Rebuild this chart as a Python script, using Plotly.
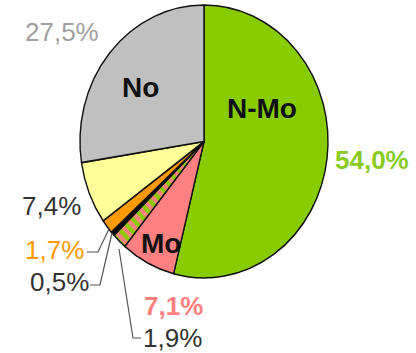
import plotly.graph_objects as go

# Share of each group, listed clockwise from 12 o'clock
groups = ["N-Mo", "Mo", "Mo / N-Mo", "Group D", "Group E", "Group F", "No"]
shares = [54.0, 7.1, 1.9, 0.5, 1.7, 7.4, 27.5]
slice_colors = ["#88CC00", "#FF8080", "#FF8080", "#000000", "#FF9900", "#FFFF99", "#C0C0C0"]
hatch_shapes = ["", "", "\\", "", "", "", ""]
hatch_colors = ["#88CC00"] * 7

# Names printed inside the pie
inner_names = ["N-Mo", "Mo", "No"]

W, H = 416, 353
CX, CY = 204, 141.5          # pie centre in pixels
RX, RY = 124, 136.5          # horizontal / vertical radius
SQUASH = RY / RX


def px(x, y):
    return x / W, 1 - y / H


def pct(v):
    return f"{v:.1f}".replace(".", ",") + "%"


fig = go.Figure()
fig.add_trace(go.Pie(
    labels=groups,
    values=shares,
    sort=False,
    direction="clockwise",
    rotation=0,
    textinfo="none",
    hoverinfo="label+percent",
    marker=dict(
        colors=slice_colors,
        line=dict(color="#111111", width=1.4),
        pattern=dict(shape=hatch_shapes, fgcolor=hatch_colors,
                     bgcolor=slice_colors, size=8, solidity=0.5,
                     fillmode="replace"),
    ),
    domain=dict(x=[(CX - RX) / W, (CX + RX) / W],
                y=[1 - (CY + RX) / H, 1 - (CY - RX) / H]),
    showlegend=False,
))

FONT = "Liberation Sans, Arial, sans-serif"

# Percentage labels: (share index, pixel x, pixel y, colour, bold)
value_labels = [
    (6, 62, 32, "#A0A0A0", False),
    (0, 372, 160, "#88CC22", True),
    (5, 51, 206, "#333333", False),
    (4, 54, 250, "#FF9900", False),
    (3, 59, 282, "#333333", False),
    (1, 173, 306, "#FF7F7F", True),
    (2, 172, 338, "#333333", False),
]

annotations = []
for idx, x, y, col, bold in value_labels:
    t = pct(shares[idx])
    if bold:
        t = "<b>" + t + "</b>"
    ax, ay = px(x, y)
    annotations.append(dict(x=ax, y=ay, xref="paper", yref="paper", text=t,
                            showarrow=False, xanchor="center", yanchor="middle",
                            font=dict(family=FONT, size=26, color=col)))

# Category names inside the pie
name_pos = {"N-Mo": (262, 108), "Mo": (161, 243), "No": (140, 88)}
for name in inner_names:
    x, y = name_pos[name]
    ax, ay = px(x, y)
    annotations.append(dict(x=ax, y=ay, xref="paper", yref="paper",
                            text="<b>" + name + "</b>", showarrow=False,
                            xanchor="center", yanchor="middle",
                            font=dict(family=FONT, size=28, color="#111111")))

# Leader lines for the thin slices
leaders = [
    [(87, 252), (98, 252), (109, 229)],
    [(90, 285), (100, 285), (112, 233)],
    [(119, 249), (133, 338), (141, 338)],
]
shapes = []
for pts in leaders:
    path = ""
    for i, (x, y) in enumerate(pts):
        fx, fy = px(x, y)
        path += ("M" if i == 0 else "L") + f"{fx},{fy} "
    shapes.append(dict(type="path", xref="paper", yref="paper", path=path.strip(),
                       line=dict(color="#555555", width=1.2)))

fig.update_layout(
    width=W, height=H,
    margin=dict(l=0, r=0, t=0, b=0),
    paper_bgcolor="white",
    plot_bgcolor="white",
    annotations=annotations,
    shapes=shapes,
)

# Stretch the pie vertically into an ellipse around its centre
post = f"""
var gd = document.getElementById('{{plot_id}}');
function stretchPie() {{
  var pl = gd.querySelector('.pielayer');
  if (pl) {{
    pl.style.transformOrigin = '{CX}px {CY}px';
    pl.style.transform = 'scaleY({SQUASH:.4f})';
  }}
}}
stretchPie();
gd.on('plotly_afterplot', stretchPie);
"""

fig.write_html("out.html", post_script=post, config={"displayModeBar": False})
